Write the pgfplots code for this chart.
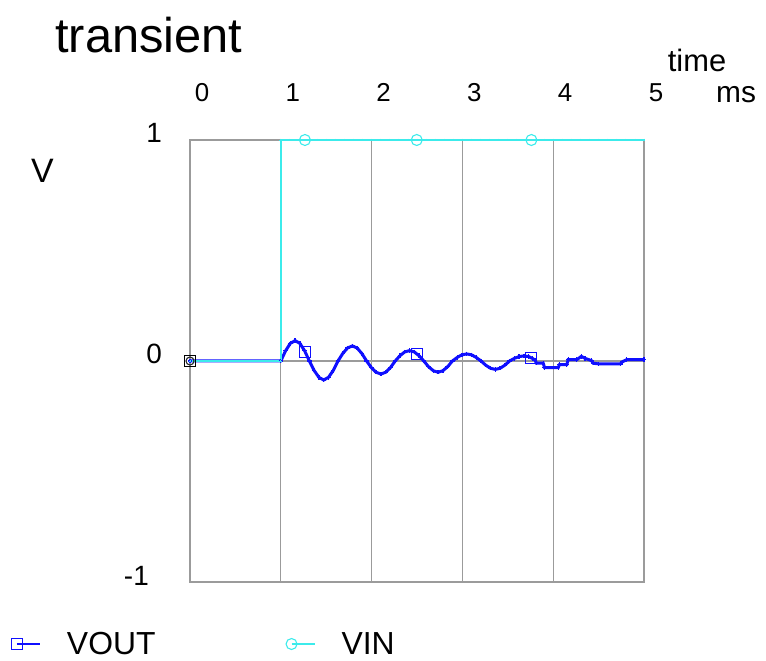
\documentclass[border=0pt]{standalone}
\usepackage{fontspec}
\setmainfont{Liberation Sans}
\usepackage{pgfplots}
\pgfplotsset{compat=1.18}
\definecolor{vout}{RGB}{15,15,255}
\definecolor{vin}{RGB}{60,235,235}
\definecolor{gridc}{RGB}{155,155,155}
\begin{document}
\begin{tikzpicture}
\useasboundingbox (0bp,0bp) rectangle (766bp,661bp);
\begin{axis}[
  at={(190bp,79bp)}, anchor=south west,
  scale only axis, width=454bp, height=442bp,
  xmin=0, xmax=5, ymin=-1, ymax=1,
  clip=false,
  axis line style={gridc, line width=1.3bp},
  xtick={0,1,2,3,4,5}, xticklabels={0,1,2,3,4,5},
  ytick={-1,0,1}, yticklabels={{-1\rule{13bp}{0pt}},0,1},
  xmajorgrids, ymajorgrids,
  grid style={gridc, line width=1.3bp},
  major tick length=0pt,
  xticklabel pos=upper,
  xticklabel style={font=\fontsize{26}{31}\selectfont, anchor=base, inner sep=0pt, xshift=12bp, yshift=38bp},
  yticklabel style={font=\fontsize{28}{34}\selectfont, anchor=base east, inner sep=0pt, xshift=-28bp, yshift=-3bp},
  legend style={at={(axis description cs:-0.3965,-0.1403)}, anchor=west, draw=none, fill=none,
    inner sep=0pt, outer sep=0pt, font=\fontsize{32}{38}\selectfont,
    nodes={inner sep=0pt},
    /tikz/every odd column/.append style={column sep=7bp},
    /tikz/every even column/.append style={column sep=129bp}},
  legend columns=2,
  legend cell align=left,
]
\addlegendimage{legend image code/.code={
  \path[draw=none,fill=none] (-7bp,0bp) rectangle (43bp,0bp);
  \draw[vout, line width=1.3bp] (0bp,0bp) -- (23bp,0bp);
  \draw[vout, line width=1.1bp] (-5.5bp,-5.5bp) rectangle (5.5bp,5.5bp);
}}
\addlegendentry{VOUT}
\addlegendimage{legend image code/.code={
  \path[draw=none,fill=none] (-7bp,0bp) rectangle (43bp,0bp);
  \draw[vin, line width=1.3bp] (0bp,0bp) -- (23bp,0bp);
  \draw[vin, line width=1.1bp] (0bp,0bp) circle (5.5bp);
}}
\addlegendentry{VIN}

% VOUT
\addplot[vout, line width=3bp, mark=+, mark size=2.2bp, mark options={line width=1.3bp}, forget plot] coordinates {
(0,0)(1.0000,0)
(1.0525,0.046)(1.1050,0.080)(1.1575,0.092)(1.2100,0.080)(1.2625,0.046)
(1.3150,0)(1.3675,-0.043)(1.4200,-0.074)(1.4725,-0.086)(1.5250,-0.074)(1.5775,-0.043)
(1.6300,0)(1.6825,0.034)(1.7350,0.059)(1.7875,0.068)(1.8400,0.059)(1.8925,0.034)
(1.9450,0)(1.9975,-0.030)(2.0500,-0.051)(2.1025,-0.059)(2.1550,-0.051)(2.2075,-0.030)
(2.2600,0)(2.3125,0.024)(2.3650,0.041)(2.4175,0.047)(2.4700,0.041)(2.5225,0.024)
(2.5750,0)(2.6275,-0.026)(2.6800,-0.044)(2.7325,-0.051)(2.7850,-0.044)(2.8375,-0.026)
(2.8900,0)(2.9425,0.016)(2.9950,0.028)(3.0475,0.032)(3.1000,0.028)(3.1525,0.016)
(3.2050,0)(3.2575,-0.019)(3.3100,-0.033)(3.3625,-0.038)(3.4150,-0.033)(3.4675,-0.019)
(3.5200,0)(3.5725,0.012)(3.6250,0.020)(3.6775,0.023)(3.7300,0.020)(3.7700,0.012)
(3.8000,0.004)(3.8150,-0.010)(3.8900,-0.010)(3.9050,-0.030)(4.0550,-0.030)
(4.0700,-0.016)(4.1500,-0.016)(4.1650,0.006)(4.2600,0.006)(4.3100,0.021)
(4.3500,0.012)(4.4200,0.002)(4.4400,-0.010)(4.5000,-0.013)(4.7400,-0.013)
(4.7600,-0.004)(4.8100,0.006)(5.0000,0.006)
};
% VIN
\addplot[vin, line width=1.8bp, mark=+, mark size=1.4bp, mark options={line width=0.8bp}, forget plot] coordinates {
(0,0)(0.1,0)(0.2,0)(0.3,0)(0.4,0)(0.5,0)(0.6,0)(0.7,0)(0.8,0)(0.9,0)(1.0,0)
(1.0,1)(1.1,1)(1.2,1)(1.3,1)(1.4,1)(1.5,1)(1.6,1)(1.7,1)(1.8,1)(1.9,1)
(2.0,1)(2.1,1)(2.2,1)(2.3,1)(2.4,1)(2.5,1)(2.6,1)(2.7,1)(2.8,1)(2.9,1)
(3.0,1)(3.1,1)(3.2,1)(3.3,1)(3.4,1)(3.5,1)(3.6,1)(3.7,1)(3.8,1)(3.9,1)
(4.0,1)(4.1,1)(4.2,1)(4.3,1)(4.4,1)(4.5,1)(4.6,1)(4.7,1)(4.8,1)(4.9,1)(5.0,1)
};
% symbol markers
\addplot[only marks, mark=square, mark size=5.5bp, vout, mark options={line width=1.1bp}, forget plot] coordinates {(1.266,0.040)(2.497,0.030)(3.760,0.015)};
\addplot[only marks, mark=o, mark size=5.5bp, vin, mark options={line width=1.1bp}, forget plot] coordinates {(1.266,1)(2.497,1)(3.760,1)};
\addplot[only marks, mark=square, mark size=5.5bp, black, mark options={line width=1.3bp}, forget plot] coordinates {(0,0)};
\addplot[only marks, mark=o, mark size=4bp, black!85, mark options={line width=1.1bp}, forget plot] coordinates {(0,0)};
\end{axis}
\node[anchor=base west, inner sep=0pt, font=\fontsize{49}{58}\selectfont] at (55bp,608bp) {transient};
\node[anchor=base, inner sep=0pt, font=\fontsize{31}{37}\selectfont] at (697bp,589.5bp) {time};
\node[anchor=base west, inner sep=0pt, font=\fontsize{30}{36}\selectfont] at (716bp,558bp) {ms};
\node[anchor=base, inner sep=0pt, font=\fontsize{34}{40}\selectfont] at (42.5bp,478bp) {V};
\end{tikzpicture}
\end{document}
